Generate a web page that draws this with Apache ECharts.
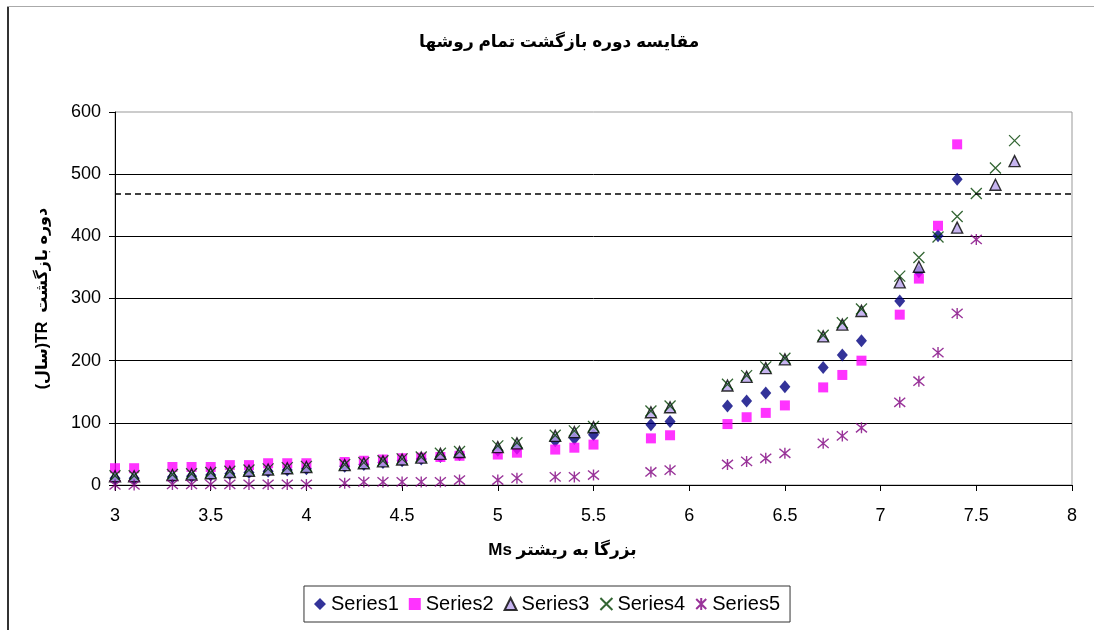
<!DOCTYPE html>
<html>
<head>
<meta charset="utf-8">
<script src="https://cdn.jsdelivr.net/npm/echarts@6/dist/echarts.min.js"></script>
<style>
html,body{margin:0;padding:0;background:#fff;}
#chart{width:1094px;height:630px;}
</style>
</head>
<body>
<div id="chart"></div>
<script>
// ---- data ----
const titleText = 'مقایسه دوره بازگشت تمام روشها';
const xAxisName = 'Ms بزرگا به ریشتر';
const yAxisName = '(سال)TR  دوره بازگشت';
const seriesNames = ['Series1', 'Series2', 'Series3', 'Series4', 'Series5'];
const msValues = [3, 3.1, 3.3, 3.4, 3.5, 3.6, 3.7, 3.8, 3.9, 4, 4.2, 4.3, 4.4, 4.5, 4.6, 4.7, 4.8, 5, 5.1, 5.3, 5.4, 5.5, 5.8, 5.9, 6.2, 6.3, 6.4, 6.5, 6.7, 6.8, 6.9, 7.1, 7.2, 7.3, 7.4, 7.5, 7.6, 7.7];
const series1 = [11, 11, 13, 14, 16, 18, 20, 22, 24, 26, 30, 33, 36, 39, 42, 46, 49, 56, 59, 71, 75, 81, 97, 102, 127, 135, 148, 158, 189, 209, 232, 296, 343, 401, 492, null, null, null];
const series2 = [27, 27, 29, 29, 29, 32, 32, 35, 35, 35, 37, 39, 41, 43, 44, 45, 47, 49, 52, 57, 60, 65, 75, 80, 98, 109, 116, 128, 157, 177, 200, 274, 332, 417, 548, null, null, null];
const series3 = [14, 14, 16, 17, 19, 21, 23, 25, 27, 29, 32, 35, 38, 41, 44, 50, 53, 61, 67, 79, 85, 93, 117, 125, 160, 174, 188, 202, 239, 258, 280, 326, 351, null, 414, null, 483, 521];
const series4 = [15, 15, 17, 18, 20, 22, 24, 26, 28, 30, 33, 36, 39, 42, 45, 51, 54, 63, 68, 80, 87, 94, 119, 127, 162, 176, 190, 204, 241, 261, 283, 336, 366, 399, 432, 469, 510, 554];
const series5 = [0, 0, 1, 1, 1, 1, 1, 1, 1, 1, 3, 5, 5, 5, 5, 5, 8, 8, 11, 13, 13, 16, 21, 24, 33, 38, 43, 51, 67, 79, 92, 133, 167, 213, 276, 395, null, null];
const referenceLine = 468;
const xMin = 3, xMax = 8, xStep = 0.5;
const yMin = 0, yMax = 600, yStep = 100;

// ---- build ----
function pairs(vals) {
  const out = [];
  vals.forEach((v, i) => { if (v !== null) out.push([msValues[i], v]); });
  return out;
}
const FONT = '"Liberation Sans", Arial, "DejaVu Sans", sans-serif';
const xPath = 'path://M0,0L10,10M10,0L0,10';
const astPath = 'path://M0,0L10,10M10,0L0,10M5,-1L5,11';

const styles = [
  { symbol: 'diamond', symbolSize: [11, 13], itemStyle: { color: '#000080' } },
  { symbol: 'rect', symbolSize: 10, itemStyle: { color: '#FF00FF' } },
  { symbol: 'triangle', symbolSize: [11, 11], itemStyle: { color: '#B9A3EC', borderColor: '#000000', borderWidth: 1.4 } },
  { symbol: xPath, symbolSize: 11, itemStyle: { color: '#004000', borderColor: '#004000', borderWidth: 1.3 } },
  { symbol: astPath, symbolSize: 11, itemStyle: { color: '#800080', borderColor: '#800080', borderWidth: 1.4 } }
];
const allData = [series1, series2, series3, series4, series5];

const series = allData.map((vals, i) => ({
  name: seriesNames[i],
  type: 'scatter',
  data: pairs(vals),
  symbol: styles[i].symbol,
  symbolSize: styles[i].symbolSize,
  itemStyle: styles[i].itemStyle,
  emphasis: { disabled: true },
  animation: false
}));
series[3].markLine = {
  silent: true,
  symbol: 'none',
  label: { show: false },
  lineStyle: { color: '#000', type: [6, 4], width: 1.5 },
  data: [{ yAxis: referenceLine }],
  animation: false
};

const chart = echarts.init(document.getElementById('chart'), null, { renderer: 'canvas' });
chart.setOption({
  backgroundColor: '#fff',
  animation: false,
  graphic: [
    { type: 'line', shape: { x1: 8, y1: 6, x2: 8, y2: 640 }, style: { stroke: '#333', lineWidth: 2 } },
    { type: 'line', shape: { x1: 7, y1: 6.5, x2: 1100, y2: 6.5 }, style: { stroke: '#aaa', lineWidth: 1 } },
    { type: 'text', left: 419, top: 34, style: { text: titleText, font: 'bold 17px ' + FONT, fill: '#000' } }
  ],
  grid: { left: 115, right: 22, top: 112, bottom: 145, show: true, borderColor: '#999', borderWidth: 1, backgroundColor: 'transparent' },
  legend: {
    bottom: 8, left: 'center',
    data: seriesNames,
    orient: 'horizontal',
    itemWidth: 12, itemHeight: 12, itemGap: 10,
    borderColor: '#333', borderWidth: 1, padding: [8, 10, 8, 10],
    textStyle: { fontFamily: FONT, fontSize: 20, color: '#000', padding: [0, 0, 0, 0] }
  },
  xAxis: {
    type: 'value', min: xMin, max: xMax, interval: xStep,
    name: xAxisName, nameLocation: 'middle', nameGap: 57,
    nameTextStyle: { fontFamily: FONT, fontWeight: 'bold', fontSize: 17, color: '#000', padding: [0, 62, 0, 0] },
    axisLine: { show: true, onZero: false, lineStyle: { color: '#000', width: 1 } },
    axisTick: { show: true, inside: false, length: 6, lineStyle: { color: '#000' } },
    axisLabel: { fontFamily: FONT, fontSize: 18, color: '#000', margin: 22 },
    splitLine: { show: false }
  },
  yAxis: {
    type: 'value', min: yMin, max: yMax, interval: yStep,
    name: yAxisName, nameLocation: 'middle', nameGap: 64, nameRotate: 90,
    nameTextStyle: { fontFamily: FONT, fontWeight: 'bold', fontSize: 16, color: '#000' },
    axisLine: { show: true, lineStyle: { color: '#000', width: 1 } },
    axisTick: { show: true, inside: false, length: 6, lineStyle: { color: '#000' } },
    axisLabel: { fontFamily: FONT, fontSize: 18, color: '#000', margin: 14 },
    splitLine: { show: true, showMaxLine: false, lineStyle: { color: '#000', width: 1 } }
  },
  series: series
});
</script>
</body>
</html>
